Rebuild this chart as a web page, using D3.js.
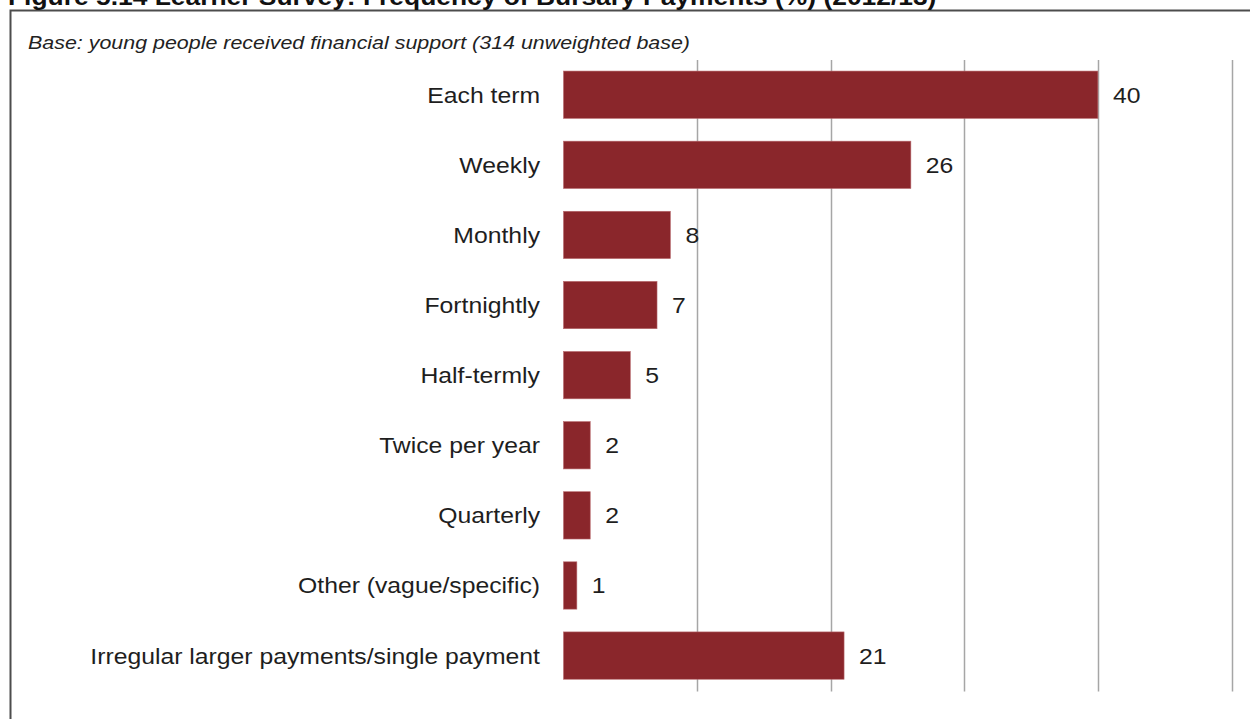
<!DOCTYPE html>
<html>
<head>
<meta charset="utf-8">
<script src="https://cdn.jsdelivr.net/npm/d3@7"></script>
<style>
  html, body { margin: 0; padding: 0; background: #fff; }
  svg { display: block; font-family: "Liberation Sans", Arial, sans-serif; }
</style>
</head>
<body>
<svg id="chart" width="1250" height="719"></svg>
<script>
// Frequency of bursary payments, percentage of learners
const categories = [
  "Each term",
  "Weekly",
  "Monthly",
  "Fortnightly",
  "Half-termly",
  "Twice per year",
  "Quarterly",
  "Other (vague/specific)",
  "Irregular larger payments/single payment"
];
const values = [40, 26, 8, 7, 5, 2, 2, 1, 21];
const gridTicks = [10, 20, 30, 40, 50];

const titleText = "Figure 5.14 Learner Survey: Frequency of Bursary Payments (%) (2012/13)";
const baseText = "Base: young people received financial support (314 unweighted base)";

const svg = d3.select("#chart");
const stretch = 1.1; // labels are set slightly wide

// Chart frame (runs off the right and bottom edges)
svg.append("rect")
  .attr("x", 10.5).attr("y", 10.5)
  .attr("width", 1300).attr("height", 800)
  .attr("fill", "none")
  .attr("stroke", "#4d4d4d")
  .attr("stroke-width", 2);

// Figure title, partly above the top edge
svg.append("text")
  .attr("transform", `translate(8,5) scale(${stretch},1)`)
  .attr("font-size", 24)
  .attr("font-weight", "bold")
  .attr("fill", "#111")
  .text(titleText);

// Base note
svg.append("text")
  .attr("x", 28).attr("y", 49)
  .attr("font-size", 18)
  .attr("font-style", "italic")
  .attr("fill", "#222")
  .attr("textLength", 662)
  .attr("lengthAdjust", "spacingAndGlyphs")
  .text(baseText);

const x = d3.scaleLinear().domain([0, 50]).range([563.5, 1231.5]);
const y = d3.scaleBand().domain(categories).range([59.7, 690.6]).paddingInner(0.325).paddingOuter(0.162);

// Vertical gridlines
svg.append("g")
  .selectAll("line")
  .data(gridTicks)
  .join("line")
  .attr("x1", d => Math.round(x(d)) + 0.5)
  .attr("x2", d => Math.round(x(d)) + 0.5)
  .attr("y1", 60)
  .attr("y2", 691.5)
  .attr("stroke", "#a6a6a6")
  .attr("stroke-width", 1.5);

// Bars
svg.append("g")
  .selectAll("rect")
  .data(values)
  .join("rect")
  .attr("x", x(0))
  .attr("y", (d, i) => y(categories[i]))
  .attr("width", d => x(d) - x(0))
  .attr("height", y.bandwidth())
  .attr("fill", "#8a262b")
  .attr("stroke", "#b86a6e")
  .attr("stroke-width", 0.6);

// Category labels
svg.append("g")
  .selectAll("text")
  .data(categories)
  .join("text")
  .attr("transform", d => `translate(${x(0) - 23.5},${y(d) + y.bandwidth() / 2 + 8}) scale(${stretch},1)`)
  .attr("text-anchor", "end")
  .attr("font-size", 22.5)
  .attr("fill", "#1e1e1e")
  .text(d => d);

// Value labels
svg.append("g")
  .selectAll("text")
  .data(values)
  .join("text")
  .attr("transform", (d, i) => `translate(${x(d) + 15},${y(categories[i]) + y.bandwidth() / 2 + 8}) scale(${stretch},1)`)
  .attr("font-size", 22.5)
  .attr("fill", "#1e1e1e")
  .text(d => d);
</script>
</body>
</html>
